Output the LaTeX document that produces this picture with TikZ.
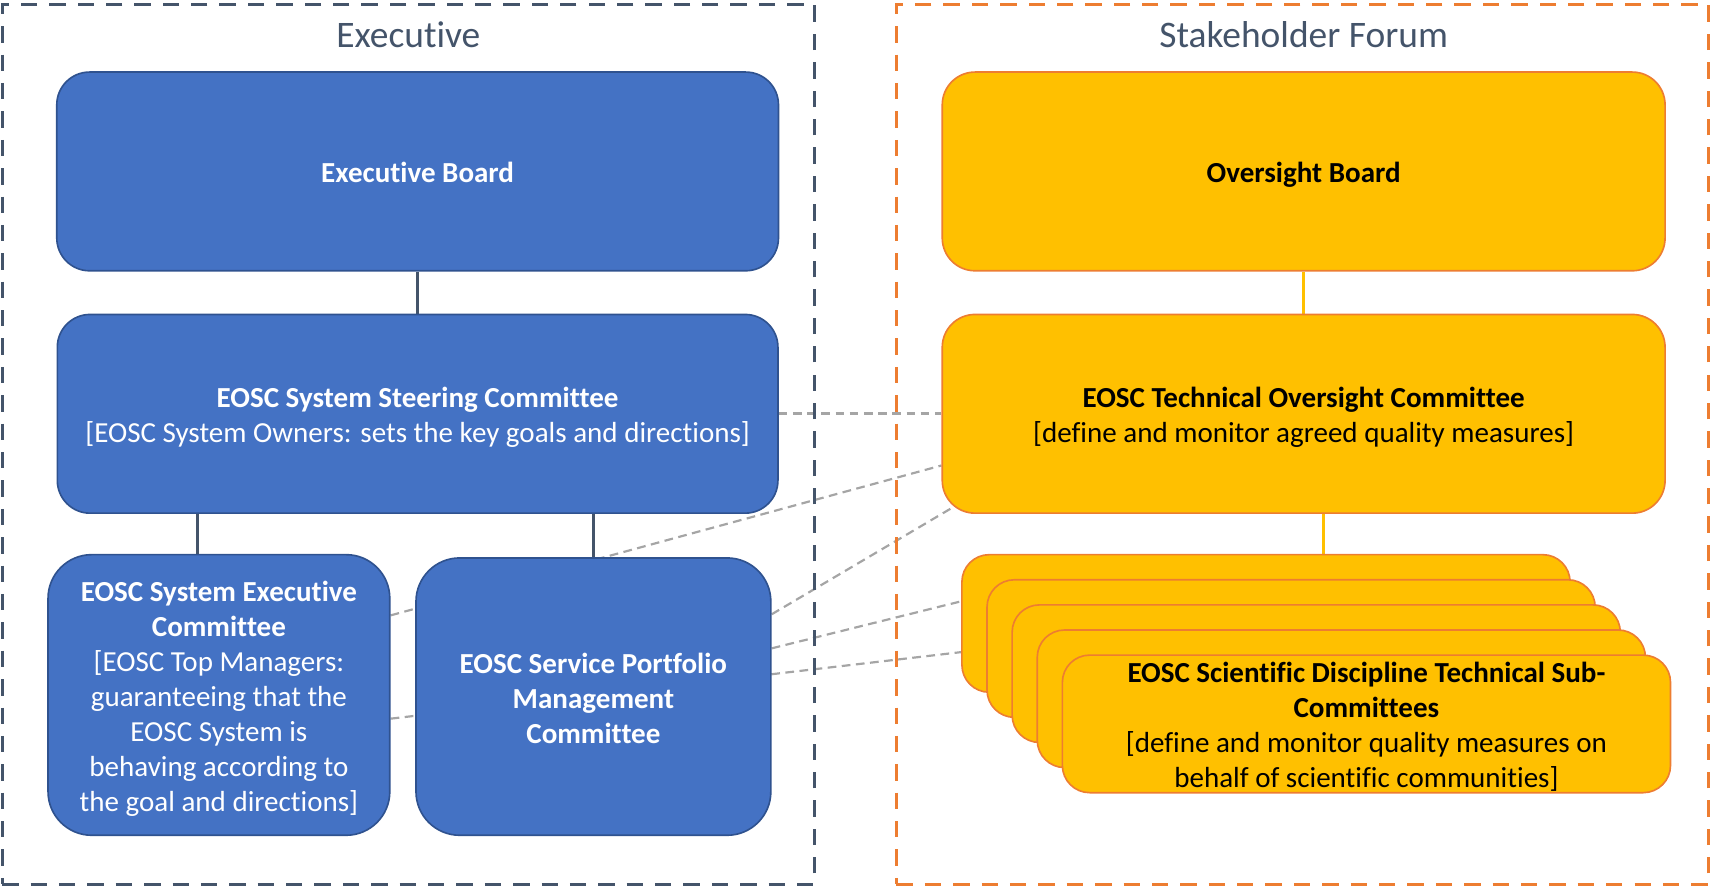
\documentclass[tikz,border=0pt]{standalone}
\usepackage{fontspec}
\setmainfont{Carlito}[Ligatures=NoCommon]
\usetikzlibrary{calc}
\pgfdeclarelayer{background}
\pgfsetlayers{background,main}
\definecolor{eblue}{HTML}{4472C4}
\definecolor{eblueb}{HTML}{2F528F}
\definecolor{slate}{HTML}{44546A}
\definecolor{gold}{HTML}{FFC000}
\definecolor{orng}{HTML}{ED7D31}
\definecolor{greyd}{HTML}{A5A5A5}
\tikzset{
 boxtext/.style={align=center, inner sep=0pt, text height=24pt, text depth=3pt, font=\fontsize{26.6}{32}\selectfont},
 twolines/.style={text height=56pt},
 threelines/.style={text height=88pt},
 fourlines/.style={text height=120pt},
 sevenlines/.style={text height=216pt},
 bluebox/.style={boxtext, draw=eblueb, line width=1.5pt, fill=eblue, text=white},
 goldbox/.style={boxtext, draw=orng, line width=1.5pt, fill=gold, text=black},
 stackbox/.style={goldbox, minimum width=557pt, minimum height=126pt, rounded corners=25pt},
 groupframe/.style={line width=3pt, dash pattern=on 15pt off 11pt, inner sep=0pt, minimum width=744pt, minimum height=806pt},
 grouptitle/.style={font=\fontsize{34.3}{40}\selectfont, text=slate, inner sep=0pt},
 bluelink/.style={draw=slate, line width=3pt},
 goldlink/.style={draw=gold, line width=2.5pt},
 greylink/.style={draw=greyd, line width=2pt, dash pattern=on 8pt off 5pt},
}
\begin{document}
\begin{tikzpicture}[x=1pt,y=-1pt]
\useasboundingbox (0,0) rectangle (1568,814);
% frames
\node[groupframe, draw=slate] (exframe) at (374,407) {};
\node[groupframe, draw=orng] (sfframe) at (1193,407) {};
\node[grouptitle] (extitle) at (374,32) {Executive};
\node[grouptitle] (sftitle) at (1194,32) {Stakeholder Forum};
% executive side
\node[bluebox, minimum width=661pt, minimum height=182pt, rounded corners=30pt] (eb) at (382.5,157) {\textbf{Executive Board}};
\node[bluebox, twolines, minimum width=660pt, minimum height=182pt, rounded corners=30pt] (steer) at (382.5,379) {\textbf{EOSC System Steering Committee}\\{}[EOSC System Owners: sets the key goals and directions]};
\node[bluebox, sevenlines, minimum width=313pt, minimum height=257pt, rounded corners=40pt] (exc) at (200.5,636.5) {\textbf{EOSC System Executive}\\\textbf{Committee}\\{}[EOSC Top Managers:\\guaranteeing that the\\EOSC System is\\behaving according to\\the goal and directions]};
\node[bluebox, threelines, minimum width=325pt, minimum height=254pt, rounded corners=40pt] (spm) at (543.5,638) {\textbf{EOSC Service Portfolio}\\\textbf{Management}\\\textbf{Committee}};
% stakeholder side
\node[goldbox, minimum width=662pt, minimum height=182pt, rounded corners=30pt] (ob) at (1194,157) {\textbf{Oversight Board}};
\node[goldbox, twolines, minimum width=662pt, minimum height=182pt, rounded corners=30pt] (toc) at (1194,379) {\textbf{EOSC Technical Oversight Committee}\\{}[define and monitor agreed quality measures]};
\node[stackbox] (s1) at (1159.5,571) {};
\node[stackbox] (s2) at (1182.5,594) {};
\node[stackbox] (s3) at (1205.5,617) {};
\node[stackbox] (s4) at (1228.5,640) {};
\node[stackbox, fourlines] (s5) at (1251.5,663) {\textbf{EOSC Scientific Discipline Technical Sub-}\\\textbf{Committees}\\{}[define and monitor quality measures on\\behalf of scientific communities]};
\coordinate (x1) at (181,0);
\coordinate (x2) at (1212,0);
\begin{pgfonlayer}{background}
\draw[bluelink] (eb.south) -- (steer.north);
\draw[bluelink] (steer.south -| x1) -- (exc.north -| x1);
\draw[bluelink] (steer.south -| spm.north) -- (spm.north);
\draw[goldlink] (ob.south) -- (toc.north);
\draw[goldlink] (toc.south -| x2) -- (s1.north -| x2);
\draw[greylink, line width=3pt] (steer.east) -- (toc.west);
\draw[greylink] ($(exc.north east)!0.218!(exc.south east)$) -- ($(toc.north west)!0.758!(toc.south west)$);
\draw[greylink] ($(exc.north east)!0.584!(exc.south east)$) -- ($(s1.north west)!0.706!(s1.south west)$);
\draw[greylink] ($(spm.north east)!0.205!(spm.south east)$) -- ([shift={(12,-7)}]toc.south west);
\draw[greylink] ($(spm.north east)!0.327!(spm.south east)$) -- ($(s1.north west)!0.341!(s1.south west)$);
\end{pgfonlayer}
\end{tikzpicture}
\end{document}
